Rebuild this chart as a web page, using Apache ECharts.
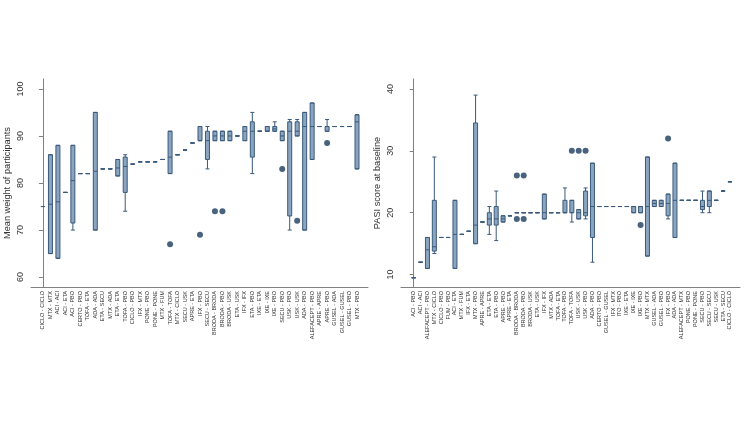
<!DOCTYPE html>
<html>
<head>
<meta charset="utf-8">
<script src="https://cdn.jsdelivr.net/npm/echarts@6/dist/echarts.min.js"></script>
<style>
  html, body { margin: 0; padding: 0; background: #ffffff; }
  #chart { width: 750px; height: 422px; }
</style>
</head>
<body>
<div id="chart"></div>
<script>
// ---------- Left panel: mean weight of participants ----------
const leftCats = ["CICLO - CICLO","MTX - MTX","ACI - ACI","ACI - ETA","ACI - PBO","CERTO - PBO","TOFA - ETA","ADA - ADA","ETA - SECU","MTX - ADA","ETA - ETA","TOFA - PBO","CICLO - PBO","IFX - MTX","PONE - PBO","PONE - PONE","MTX - FUM","TOFA - TOFA","MTX - CICLO","SECU - USK","APRE - ETA","IFX - PBO","SECU - SECU","BRODA - BRODA","BRODA - PBO","BRODA - USK","ETA - USK","IFX - IFX","ETA - PBO","IXE - ETA","IXE - IXE","IXE - PBO","SECU - PBO","USK - PBO","USK - USK","ADA - PBO","ALEFACEPT - PBO","APRE - APRE","APRE - PBO","GUSEL - ADA","GUSEL - GUSEL","GUSEL - PBO","MTX - PBO"];
const leftMin = [75,65,64,78,70,82,82,70,83,83,81.5,74,84,84.5,84.5,84.5,85,82,86,87,88.5,89,83,89,89,89,90,89,82,91,91,91,89,70,90,70,85,92,91,92,92,92,83];
const leftQ1  = [75,65,64,78,71.5,82,82,70,83,83,81.5,78,84,84.5,84.5,84.5,85,82,86,87,88.5,89,85,89,89,89,90,89,85.5,91,91,91,89,73,90,70,85,92,91,92,92,92,83];
const leftMed = [75,75.5,76,78,80.5,82,82,82.5,83,83,83.2,83.5,84,84.5,84.5,84.5,85,85.5,86,87,88.5,89,89,90,90,90,90,91,91,91,91,91.5,90,91,91,92,92,92,92,92,92,92,93];
const leftQ3  = [75,86,88,78,88,82,82,95,83,83,85,85.5,84,84.5,84.5,84.5,85,91,86,87,88.5,92,91,91,91,91,90,92,93,91,92,92,91,93,93,95,97,92,92,92,92,92,94.5];
const leftMax = [75,86,88,78,88,82,82,95,83,83,85,86,84,84.5,84.5,84.5,85,91,86,87,88.5,92,92,91,91,91,90,92,95,91,92,93,91,93.5,93.5,95,97,92,93.5,92,92,92,94.5];
const leftOutlierCat = ["TOFA - TOFA","IFX - PBO","BRODA - BRODA","BRODA - PBO","SECU - PBO","USK - USK","APRE - PBO"];
const leftOutlierVal = [67,69,74,74,83,72,88.5];
const leftTicks = [60,70,80,90,100];

// ---------- Right panel: PASI score at baseline ----------
const rightCats = ["ACI - PBO","ACI - ACI","ALEFACEPT - PBO","MTX - CICLO","CICLO - PBO","FUM - PBO","ACI - ETA","MTX - FUM","IFX - ETA","MTX - PBO","APRE - APRE","ETA - ETA","ETA - PBO","APRE - PBO","APRE - ETA","BRODA - BRODA","BRODA - PBO","BRODA - USK","ETA - USK","IFX - IFX","MTX - ADA","TOFA - ETA","TOFA - PBO","TOFA - TOFA","USK - USK","USK - PBO","ADA - PBO","CERTO - PBO","GUSEL - GUSEL","IFX - MTX","ITO - PBO","IXE - ETA","IXE - IXE","IXE - PBO","MTX - MTX","GUSEL - ADA","GUSEL - PBO","IFX - PBO","ADA - ADA","ALEFACEPT - MTX","PONE - PBO","PONE - PONE","SECU - PBO","SECU - SECU","SECU - USK","ETA - SECU","CICLO - CICLO"];
const rightMin = [9.5,12,11,13.4,16,16,11,16.5,17,15,18.5,16.5,15.5,18.5,19.5,20,20,20,20,19,20,20,20,18.5,19,19,12,21,21,21,21,21,20,20,13,21,21,19,16,22,22,22,20,20,22,23.5,25];
const rightQ1  = [9.5,12,11,13.8,16,16,11,16.5,17,15,18.5,18,18,18.5,19.5,20,20,20,20,19,20,20,20,20,19,19.5,16,21,21,21,21,21,20,20,13,21,21,19.5,16,22,22,22,20.5,21,22,23.5,25];
const rightMed = [9.5,12,14,14.5,16,16,16.5,16.5,17,18,18.5,19,19,19,19.5,20,20,20,20,20,20,20,20,20,20,20,21,21,21,21,21,21,21,21,21,21.5,21.5,21.5,22,22,22,22,21,22,22,23.5,25];
const rightQ3  = [9.5,12,16,22,16,16,22,16.5,17,34.5,18.5,20,21,19.5,19.5,20,20,20,20,23,20,20,22,22,20.5,23.5,28,21,21,21,21,21,21,21,29,22,22,23,28,22,22,22,22,23.5,22,23.5,25];
const rightMax = [9.5,12,16,29,16,16,22,16.5,17,39,18.5,21,23.5,19.5,19.5,20,20,20,20,23,20,20,24,22,20.5,24,28,21,21,21,21,21,21,21,29,22,22,23,28,22,22,22,23.5,23.5,22,23.5,25];
const rightOutlierCat = ["BRODA - BRODA","BRODA - PBO","BRODA - BRODA","BRODA - PBO","TOFA - TOFA","USK - USK","USK - PBO","IXE - PBO","IFX - PBO"];
const rightOutlierVal = [26,26,19,19,30,30,30,18,32];
const rightTicks = [10,20,30,40];

// ---------- styling ----------
const FONT = "'Liberation Sans', Arial, sans-serif";
const BOX_FILL = '#8ba5c1';
const BOX_LINE = '#3a5a7b';
const DOT = '#1c3b5e';
const AXIS = '#808080';

function boxData(cats, mn, q1, md, q3, mx) {
  return cats.map((c, i) => [i, mn[i], q1[i], md[i], q3[i], mx[i]]);
}
function outlierData(cats, oc, ov) {
  return oc.map((c, i) => [cats.indexOf(c), ov[i]]);
}
function xAxisFor(gridIndex, cats, min, max) {
  return {
    type: 'value', gridIndex, min, max,
    axisLine: { show: true, lineStyle: { color: AXIS, width: 1 } },
    axisTick: { show: false },
    splitLine: { show: false },
    axisLabel: {
      customValues: cats.map((c, i) => i),
      formatter: v => cats[Math.round(v)] || '',
      rotate: 90, margin: 4, fontSize: 5.5, color: '#333', fontFamily: FONT
    }
  };
}
function yAxisFor(gridIndex, name, min, max, ticks) {
  return {
    type: 'value', gridIndex, min, max, name,
    nameLocation: 'middle', nameGap: 19, nameRotate: 90,
    nameTextStyle: { fontSize: 9.2, color: '#333', fontFamily: FONT },
    axisLine: { show: true, lineStyle: { color: AXIS, width: 1 } },
    axisTick: { show: true, length: 4, customValues: ticks, lineStyle: { color: AXIS } },
    splitLine: { show: false },
    axisLabel: { customValues: ticks, rotate: 90, margin: 6, fontSize: 9, color: '#333', fontFamily: FONT }
  };
}

const chart = echarts.init(document.getElementById('chart'), null, { renderer: 'canvas' });
chart.setOption({
  animation: false,
  backgroundColor: '#ffffff',
  grid: [
    { left: 31, right: 382, top: 79, bottom: 135 },
    { left: 401, right: 10, top: 79, bottom: 135 }
  ],
  xAxis: [
    xAxisFor(0, leftCats, -1.6, leftCats.length - 1 + 1.47),
    xAxisFor(1, rightCats, -1.85, rightCats.length - 1 + 1.46)
  ],
  yAxis: [
    yAxisFor(0, 'Mean weight of participants', 57.9, 102.1, leftTicks),
    yAxisFor(1, 'PASI score at baseline', 8, 41.6, rightTicks)
  ],
  series: [
    {
      type: 'boxplot', xAxisIndex: 0, yAxisIndex: 0, silent: true,
      boxWidth: [4, 4],
      itemStyle: { color: BOX_FILL, borderColor: BOX_LINE, borderWidth: 1 },
      data: boxData(leftCats, leftMin, leftQ1, leftMed, leftQ3, leftMax)
    },
    {
      type: 'scatter', xAxisIndex: 0, yAxisIndex: 0, silent: true,
      symbolSize: 6, itemStyle: { color: DOT },
      data: outlierData(leftCats, leftOutlierCat, leftOutlierVal)
    },
    {
      type: 'boxplot', xAxisIndex: 1, yAxisIndex: 1, silent: true,
      boxWidth: [4, 4],
      itemStyle: { color: BOX_FILL, borderColor: BOX_LINE, borderWidth: 1 },
      data: boxData(rightCats, rightMin, rightQ1, rightMed, rightQ3, rightMax)
    },
    {
      type: 'scatter', xAxisIndex: 1, yAxisIndex: 1, silent: true,
      symbolSize: 6, itemStyle: { color: DOT },
      data: outlierData(rightCats, rightOutlierCat, rightOutlierVal)
    }
  ]
});
</script>
</body>
</html>
